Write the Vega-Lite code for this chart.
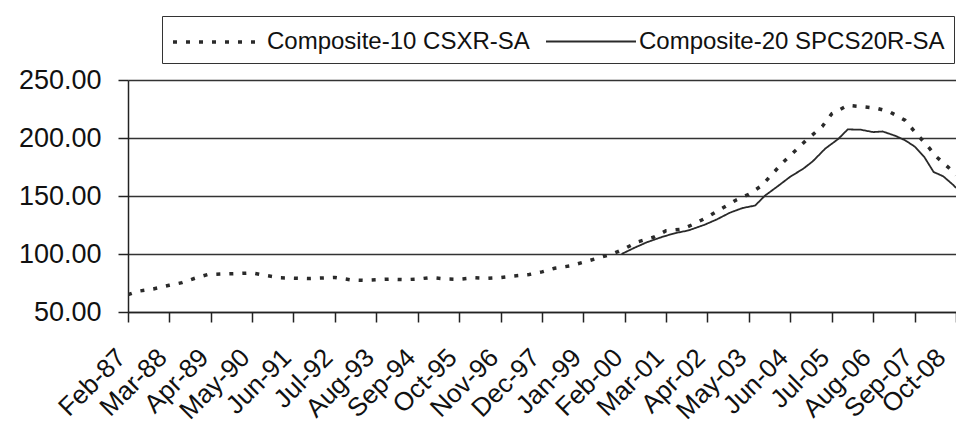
{
  "$schema": "https://vega.github.io/schema/vega-lite/v6.json",
  "width": 828,
  "height": 232,
  "autosize": {"type": "none"},
  "padding": {"left": 128, "top": 80, "right": 0, "bottom": 132},
  "background": "white",
  "config": {
    "view": {"stroke": null},
    "font": "Liberation Sans",
    "axis": {"labelFont": "Liberation Sans", "labelColor": "#111", "domainColor": "#222", "tickColor": "#222"},
    "legend": {"labelFont": "Liberation Sans"}
  },
  "data": {
    "values": [
      {"date": "1987-02-01", "series": "Composite-10 CSXR-SA", "value": 65.0},
      {"date": "1987-05-01", "series": "Composite-10 CSXR-SA", "value": 67.8},
      {"date": "1987-10-01", "series": "Composite-10 CSXR-SA", "value": 69.9},
      {"date": "1988-03-01", "series": "Composite-10 CSXR-SA", "value": 73.0},
      {"date": "1988-07-01", "series": "Composite-10 CSXR-SA", "value": 75.3},
      {"date": "1988-11-01", "series": "Composite-10 CSXR-SA", "value": 79.1},
      {"date": "1989-03-01", "series": "Composite-10 CSXR-SA", "value": 82.2},
      {"date": "1989-08-01", "series": "Composite-10 CSXR-SA", "value": 82.8},
      {"date": "1990-01-01", "series": "Composite-10 CSXR-SA", "value": 83.2},
      {"date": "1990-05-01", "series": "Composite-10 CSXR-SA", "value": 83.7},
      {"date": "1990-09-01", "series": "Composite-10 CSXR-SA", "value": 81.6},
      {"date": "1991-02-01", "series": "Composite-10 CSXR-SA", "value": 79.5},
      {"date": "1991-06-01", "series": "Composite-10 CSXR-SA", "value": 79.2},
      {"date": "1991-11-01", "series": "Composite-10 CSXR-SA", "value": 78.8},
      {"date": "1992-03-01", "series": "Composite-10 CSXR-SA", "value": 79.3},
      {"date": "1992-07-01", "series": "Composite-10 CSXR-SA", "value": 79.8},
      {"date": "1992-12-01", "series": "Composite-10 CSXR-SA", "value": 77.7},
      {"date": "1993-04-01", "series": "Composite-10 CSXR-SA", "value": 77.3},
      {"date": "1993-08-01", "series": "Composite-10 CSXR-SA", "value": 77.8},
      {"date": "1993-12-01", "series": "Composite-10 CSXR-SA", "value": 78.3},
      {"date": "1994-05-01", "series": "Composite-10 CSXR-SA", "value": 77.9},
      {"date": "1994-09-01", "series": "Composite-10 CSXR-SA", "value": 78.4},
      {"date": "1995-01-01", "series": "Composite-10 CSXR-SA", "value": 79.7},
      {"date": "1995-06-01", "series": "Composite-10 CSXR-SA", "value": 78.5},
      {"date": "1995-10-01", "series": "Composite-10 CSXR-SA", "value": 78.2},
      {"date": "1996-03-01", "series": "Composite-10 CSXR-SA", "value": 79.5},
      {"date": "1996-07-01", "series": "Composite-10 CSXR-SA", "value": 79.1},
      {"date": "1996-11-01", "series": "Composite-10 CSXR-SA", "value": 79.7},
      {"date": "1997-03-01", "series": "Composite-10 CSXR-SA", "value": 81.0},
      {"date": "1997-08-01", "series": "Composite-10 CSXR-SA", "value": 82.3},
      {"date": "1997-12-01", "series": "Composite-10 CSXR-SA", "value": 84.6},
      {"date": "1998-04-01", "series": "Composite-10 CSXR-SA", "value": 87.7},
      {"date": "1998-09-01", "series": "Composite-10 CSXR-SA", "value": 89.8},
      {"date": "1999-01-01", "series": "Composite-10 CSXR-SA", "value": 92.9},
      {"date": "1999-05-01", "series": "Composite-10 CSXR-SA", "value": 96.0},
      {"date": "1999-10-01", "series": "Composite-10 CSXR-SA", "value": 99.9},
      {"date": "2000-02-01", "series": "Composite-10 CSXR-SA", "value": 104.7},
      {"date": "2000-06-01", "series": "Composite-10 CSXR-SA", "value": 110.4},
      {"date": "2000-11-01", "series": "Composite-10 CSXR-SA", "value": 114.4},
      {"date": "2001-03-01", "series": "Composite-10 CSXR-SA", "value": 120.0},
      {"date": "2001-08-01", "series": "Composite-10 CSXR-SA", "value": 121.4},
      {"date": "2001-12-01", "series": "Composite-10 CSXR-SA", "value": 126.2},
      {"date": "2002-04-01", "series": "Composite-10 CSXR-SA", "value": 131.9},
      {"date": "2002-09-01", "series": "Composite-10 CSXR-SA", "value": 140.1},
      {"date": "2003-01-01", "series": "Composite-10 CSXR-SA", "value": 146.6},
      {"date": "2003-05-01", "series": "Composite-10 CSXR-SA", "value": 151.5},
      {"date": "2003-09-01", "series": "Composite-10 CSXR-SA", "value": 158.9},
      {"date": "2003-12-01", "series": "Composite-10 CSXR-SA", "value": 168.0},
      {"date": "2004-04-01", "series": "Composite-10 CSXR-SA", "value": 179.8},
      {"date": "2004-08-01", "series": "Composite-10 CSXR-SA", "value": 190.2},
      {"date": "2004-11-01", "series": "Composite-10 CSXR-SA", "value": 198.2},
      {"date": "2005-04-01", "series": "Composite-10 CSXR-SA", "value": 209.9},
      {"date": "2005-07-01", "series": "Composite-10 CSXR-SA", "value": 220.8},
      {"date": "2005-12-01", "series": "Composite-10 CSXR-SA", "value": 228.1},
      {"date": "2006-05-01", "series": "Composite-10 CSXR-SA", "value": 226.9},
      {"date": "2006-09-01", "series": "Composite-10 CSXR-SA", "value": 225.7},
      {"date": "2007-01-01", "series": "Composite-10 CSXR-SA", "value": 222.8},
      {"date": "2007-06-01", "series": "Composite-10 CSXR-SA", "value": 215.3},
      {"date": "2007-09-01", "series": "Composite-10 CSXR-SA", "value": 205.6},
      {"date": "2008-01-01", "series": "Composite-10 CSXR-SA", "value": 193.3},
      {"date": "2008-04-01", "series": "Composite-10 CSXR-SA", "value": 183.5},
      {"date": "2008-08-01", "series": "Composite-10 CSXR-SA", "value": 173.7},
      {"date": "2008-10-01", "series": "Composite-10 CSXR-SA", "value": 168.0},
      {"date": "2000-01-01", "series": "Composite-20 SPCS20R-SA", "value": 100.0},
      {"date": "2000-05-01", "series": "Composite-20 SPCS20R-SA", "value": 105.3},
      {"date": "2000-09-01", "series": "Composite-20 SPCS20R-SA", "value": 110.2},
      {"date": "2001-02-01", "series": "Composite-20 SPCS20R-SA", "value": 115.0},
      {"date": "2001-06-01", "series": "Composite-20 SPCS20R-SA", "value": 118.1},
      {"date": "2001-10-01", "series": "Composite-20 SPCS20R-SA", "value": 120.3},
      {"date": "2002-03-01", "series": "Composite-20 SPCS20R-SA", "value": 125.1},
      {"date": "2002-07-01", "series": "Composite-20 SPCS20R-SA", "value": 129.9},
      {"date": "2002-11-01", "series": "Composite-20 SPCS20R-SA", "value": 135.6},
      {"date": "2003-03-01", "series": "Composite-20 SPCS20R-SA", "value": 139.6},
      {"date": "2003-07-01", "series": "Composite-20 SPCS20R-SA", "value": 141.8},
      {"date": "2003-10-01", "series": "Composite-20 SPCS20R-SA", "value": 150.2},
      {"date": "2004-02-01", "series": "Composite-20 SPCS20R-SA", "value": 158.4},
      {"date": "2004-06-01", "series": "Composite-20 SPCS20R-SA", "value": 166.7},
      {"date": "2004-10-01", "series": "Composite-20 SPCS20R-SA", "value": 173.4},
      {"date": "2005-01-01", "series": "Composite-20 SPCS20R-SA", "value": 179.9},
      {"date": "2005-05-01", "series": "Composite-20 SPCS20R-SA", "value": 190.9},
      {"date": "2005-09-01", "series": "Composite-20 SPCS20R-SA", "value": 199.1},
      {"date": "2005-12-01", "series": "Composite-20 SPCS20R-SA", "value": 207.4},
      {"date": "2006-04-01", "series": "Composite-20 SPCS20R-SA", "value": 207.2},
      {"date": "2006-08-01", "series": "Composite-20 SPCS20R-SA", "value": 205.1},
      {"date": "2006-11-01", "series": "Composite-20 SPCS20R-SA", "value": 205.6},
      {"date": "2007-03-01", "series": "Composite-20 SPCS20R-SA", "value": 201.9},
      {"date": "2007-06-01", "series": "Composite-20 SPCS20R-SA", "value": 198.1},
      {"date": "2007-09-01", "series": "Composite-20 SPCS20R-SA", "value": 192.7},
      {"date": "2007-12-01", "series": "Composite-20 SPCS20R-SA", "value": 183.9},
      {"date": "2008-03-01", "series": "Composite-20 SPCS20R-SA", "value": 170.7},
      {"date": "2008-06-01", "series": "Composite-20 SPCS20R-SA", "value": 167.0},
      {"date": "2008-09-01", "series": "Composite-20 SPCS20R-SA", "value": 159.8},
      {"date": "2008-10-01", "series": "Composite-20 SPCS20R-SA", "value": 157.0}
    ]
  },
  "mark": {"type": "line", "color": "#2a2a2a", "clip": true},
  "encoding": {
    "x": {
      "field": "date",
      "type": "temporal",
      "scale": {
        "type": "utc",
        "domain": [
          {"year": 1987, "month": 2, "date": 1, "utc": true},
          {"year": 2008, "month": 10, "date": 1, "utc": true}
        ]
      },
      "axis": {
        "title": null,
        "values": [
          {"year": 1987, "month": 2, "date": 1, "utc": true},
          {"year": 1988, "month": 3, "date": 1, "utc": true},
          {"year": 1989, "month": 4, "date": 1, "utc": true},
          {"year": 1990, "month": 5, "date": 1, "utc": true},
          {"year": 1991, "month": 6, "date": 1, "utc": true},
          {"year": 1992, "month": 7, "date": 1, "utc": true},
          {"year": 1993, "month": 8, "date": 1, "utc": true},
          {"year": 1994, "month": 9, "date": 1, "utc": true},
          {"year": 1995, "month": 10, "date": 1, "utc": true},
          {"year": 1996, "month": 11, "date": 1, "utc": true},
          {"year": 1997, "month": 12, "date": 1, "utc": true},
          {"year": 1999, "month": 1, "date": 1, "utc": true},
          {"year": 2000, "month": 2, "date": 1, "utc": true},
          {"year": 2001, "month": 3, "date": 1, "utc": true},
          {"year": 2002, "month": 4, "date": 1, "utc": true},
          {"year": 2003, "month": 5, "date": 1, "utc": true},
          {"year": 2004, "month": 6, "date": 1, "utc": true},
          {"year": 2005, "month": 7, "date": 1, "utc": true},
          {"year": 2006, "month": 8, "date": 1, "utc": true},
          {"year": 2007, "month": 9, "date": 1, "utc": true},
          {"year": 2008, "month": 10, "date": 1, "utc": true}
        ],
        "format": "%b-%y",
        "labelAngle": -45,
        "labelFontSize": 26,
        "labelPadding": 22,
        "labelOffset": {"condition": {"test": "datum.value > 1200000000000", "value": -24}, "value": -16},
        "labelOverlap": false,
        "labelFlush": false,
        "labelBound": false,
        "tickSize": 10,
        "tickWidth": 1.5,
        "domainWidth": 1.5,
        "grid": false
      }
    },
    "y": {
      "field": "value",
      "type": "quantitative",
      "scale": {"domain": [50, 250], "nice": false, "zero": false},
      "axis": {
        "title": null,
        "values": [50, 100, 150, 200, 250],
        "format": ".2f",
        "labelFontSize": 27,
        "labelPadding": 17,
        "tickSize": 10,
        "tickWidth": 1.5,
        "domainWidth": 1.5,
        "grid": true,
        "gridColor": "#333",
        "gridWidth": 1.5
      }
    },
    "strokeDash": {
      "field": "series",
      "type": "nominal",
      "scale": {
        "domain": ["Composite-10 CSXR-SA", "Composite-20 SPCS20R-SA"],
        "range": [[4, 9], [1, 0]]
      },
      "legend": {
        "title": null,
        "orient": "none",
        "legendX": 34,
        "legendY": -64,
        "direction": "horizontal",
        "strokeColor": "#333",
        "padding": 9,
        "labelFontSize": 24,
        "labelColor": "#111",
        "labelLimit": 0,
        "symbolType": "M-1,0H5",
        "symbolSize": 900,
        "symbolStrokeColor": "#2a2a2a",
        "symbolStrokeWidth": 2.5,
        "labelOffset": 62,
        "columnPadding": 12
      }
    },
    "strokeWidth": {
      "field": "series",
      "type": "nominal",
      "scale": {
        "domain": ["Composite-10 CSXR-SA", "Composite-20 SPCS20R-SA"],
        "range": [3.5, 1.8]
      },
      "legend": null
    }
  }
}
